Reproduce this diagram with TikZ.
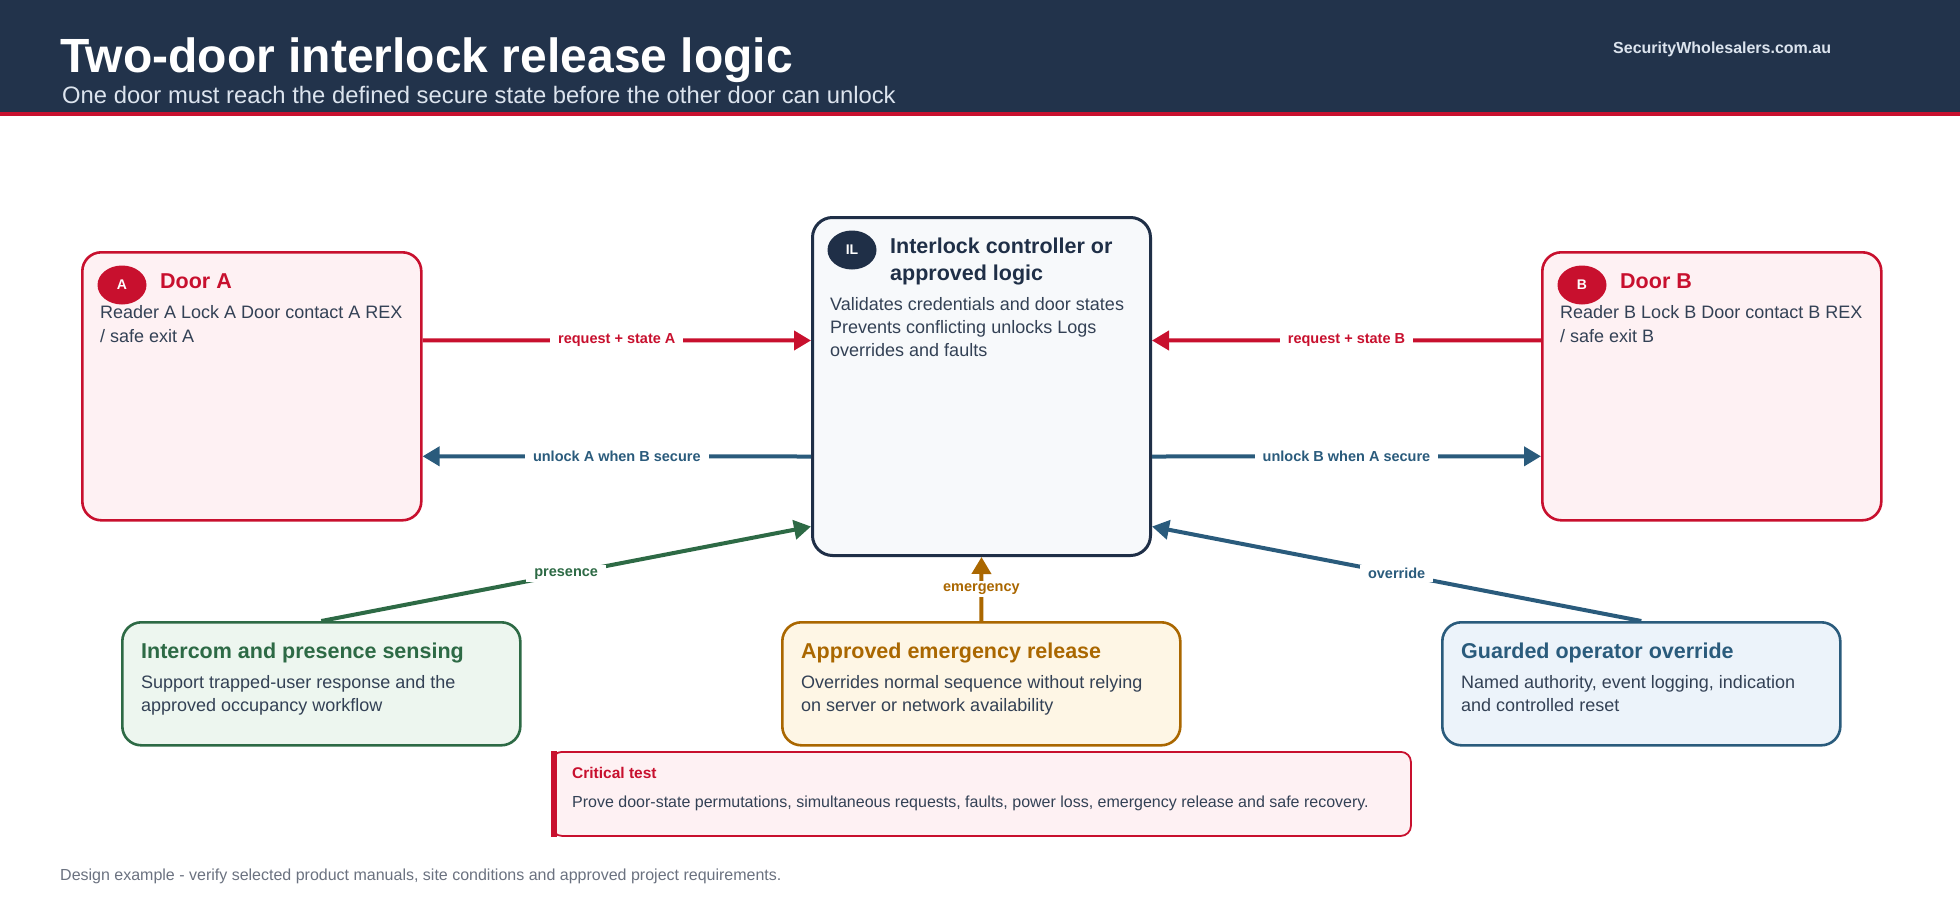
\documentclass[tikz,border=0pt]{standalone}
\usepackage{fontspec}
\setmainfont{Liberation Sans}
\usetikzlibrary{arrows.meta,shapes.geometric}

\definecolor{hdrnavy}{HTML}{22334B}
\definecolor{subgrey}{HTML}{DCE4EE}
\definecolor{accred}{HTML}{C8102E}
\definecolor{doorfill}{HTML}{FEF1F3}
\definecolor{ilnavy}{HTML}{1F2F47}
\definecolor{ilfill}{HTML}{F7F9FB}
\definecolor{bodytext}{HTML}{334155}
\definecolor{flowblue}{HTML}{2A5B7C}
\definecolor{bluefill}{HTML}{ECF3FA}
\definecolor{flowgreen}{HTML}{2D6A45}
\definecolor{greenfill}{HTML}{EDF6EF}
\definecolor{amber}{HTML}{AA6700}
\definecolor{amberfill}{HTML}{FEF6E5}
\definecolor{footgrey}{HTML}{6B7280}

\newcommand{\fsz}[2]{\fontsize{#1}{#2}\selectfont}

\tikzset{
  box/.style={anchor=north west, inner sep=0pt, rounded corners=19pt, line width=2.6pt},
  doorbox/.style={box, draw=accred, fill=doorfill, minimum width=339pt, minimum height=268pt},
  sidebox/.style={box, minimum width=398pt, minimum height=123pt},
  badge/.style={ellipse, minimum width=49pt, minimum height=39pt, inner sep=0pt,
    text=white, font=\fsz{14}{16}\bfseries},
  boxtitle/.style={anchor=base west, inner sep=0pt, align=left, font=\fsz{21.5}{27}\bfseries},
  boxtext/.style={anchor=base west, inner sep=0pt, align=left, text=bodytext, font=\fsz{18}{23.5}},
  flow/.style={line width=4pt, -{Triangle[length=17pt,width=19pt]}},
  flowlbl/.style={fill=white, inner xsep=8pt, inner ysep=3pt, font=\fsz{14.5}{16}\bfseries},
}

\begin{document}
\begin{tikzpicture}[x=1pt,y=-1pt]
\fill[white] (0,0) rectangle (1960,900);
\fill[hdrnavy] (0,0) rectangle (1960,112);
\fill[accred] (0,112) rectangle (1960,116);

\node (title) [anchor=base west, inner sep=0pt, text=white, font=\fsz{48}{56}\bfseries] at (60,72)
  {Two-door interlock release logic};
\node (subtitle) [anchor=base west, inner sep=0pt, text=subgrey, font=\fsz{23.8}{28}] at (62,103)
  {One door must reach the defined secure state before the other door can unlock};
\node (site) [anchor=base west, inner sep=0pt, text=subgrey, font=\fsz{16}{19}\bfseries] at (1613,53)
  {SecurityWholesalers.com.au};

\node (doorA) [doorbox] at (81,251) {};
\node (doorB) [doorbox] at (1541,251) {};
\node (il) [box, draw=ilnavy, fill=ilfill, line width=3pt, rounded corners=20pt,
  minimum width=338pt, minimum height=338pt] at (811,216) {};
\node (intercom) [sidebox, draw=flowgreen, fill=greenfill] at (121,621) {};
\node (emerg) [sidebox, draw=amber, fill=amberfill] at (781,621) {};
\node (override) [sidebox, draw=flowblue, fill=bluefill] at (1441,621) {};

\node (badgeA) [badge, fill=accred] at (122,285) {A};
\node (badgeB) [badge, fill=accred] at (1582,285) {B};
\node (badgeIL) [badge, fill=ilnavy] at (852,250) {IL};

\node (doorAtitle) [boxtitle, text=accred] at (160,288) {Door A};
\node (doorAtext) [boxtext, font=\fsz{18}{24}] at (100,342) {Reader A Lock A Door contact A REX\\/ safe exit A};
\node (doorBtitle) [boxtitle, text=accred] at (1620,288) {Door B};
\node (doorBtext) [boxtext, font=\fsz{18}{24}] at (1560,342) {Reader B Lock B Door contact B REX\\/ safe exit B};
\node (iltitle) [boxtitle, text=ilnavy] at (890,280) {Interlock controller or\\approved logic};
\node (iltext) [boxtext, font=\fsz{18}{23}] at (830,356)
  {Validates credentials and door states\\Prevents conflicting unlocks Logs\\overrides and faults};

\node (intercomtitle) [boxtitle, text=flowgreen] at (141,658) {Intercom and presence sensing};
\node (intercomtext) [boxtext] at (141,711.5) {Support trapped-user response and the\\approved occupancy workflow};
\node (emergtitle) [boxtitle, text=amber] at (801,658) {Approved emergency release};
\node (emergtext) [boxtext] at (801,711.5) {Overrides normal sequence without relying\\on server or network availability};
\node (overridetitle) [boxtitle, text=flowblue] at (1461,658) {Guarded operator override};
\node (overridetext) [boxtext] at (1461,711.5) {Named authority, event logging, indication\\and controlled reset};

\draw[flow, accred] ([yshift=46pt]doorA.east) -- node[flowlbl, text=accred] {request + state A} ([yshift=46pt]il.west);
\draw[flow, accred] ([yshift=46pt]doorB.west) -- node[flowlbl, text=accred] {request + state B} ([yshift=46pt]il.east);
\draw[flow, flowblue] ([yshift=-70pt]il.west) -- node[flowlbl, text=flowblue] {unlock A when B secure} ([yshift=-70pt]doorA.east);
\draw[flow, flowblue] ([yshift=-70pt]il.east) -- node[flowlbl, text=flowblue] {unlock B when A secure} ([yshift=-70pt]doorB.west);
\draw[flow, flowgreen] (intercom.north) -- node[flowlbl, text=flowgreen] {presence} ([yshift=-140pt]il.west);
\draw[flow, amber] (emerg.north) -- node[flowlbl, text=amber] {emergency} (il.south);
\draw[flow, flowblue] (override.north) -- node[flowlbl, text=flowblue] {override} ([yshift=-140pt]il.east);

\node (crit) [box, draw=accred, fill=doorfill, line width=1.8pt, rounded corners=10pt,
  minimum width=859pt, minimum height=84pt] at (551,751) {};
\fill[accred] (crit.north west) rectangle ([xshift=6pt]crit.south west);
\node (crittitle) [anchor=base west, inner sep=0pt, text=accred, font=\fsz{15.5}{18}\bfseries] at (572,778) {Critical test};
\node (crittext) [anchor=base west, inner sep=0pt, text=bodytext, font=\fsz{16}{19}] at (572,807)
  {Prove door-state permutations, simultaneous requests, faults, power loss, emergency release and safe recovery.};

\node (footer) [anchor=base west, inner sep=0pt, text=footgrey, font=\fsz{16}{19}] at (60,880)
  {Design example - verify selected product manuals, site conditions and approved project requirements.};
\end{tikzpicture}
\end{document}
